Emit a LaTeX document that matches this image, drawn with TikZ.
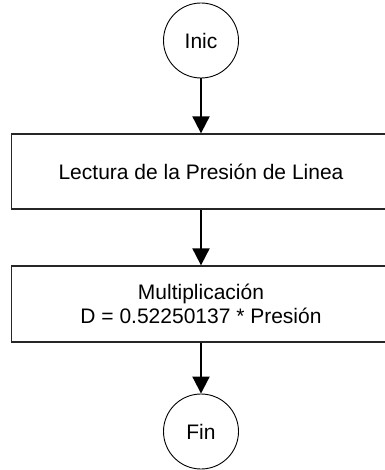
\documentclass[tikz,border=0pt]{standalone}
\usepackage{fontspec}
\setmainfont{Liberation Sans}
\usetikzlibrary{arrows.meta}
\begin{document}
\begin{tikzpicture}[x=1pt,y=-1pt,
  every node/.style={font=\fontsize{21}{24}\selectfont},
  term/.style={circle,draw=black,line width=0.9pt,minimum size=75pt,inner sep=0pt},
  procbox/.style={rectangle,draw=black!85,line width=1.3pt,minimum width=379pt,align=center,inner sep=0pt},
  flow/.style={line width=2pt,-{Triangle[length=17pt,width=17pt]}}]
\useasboundingbox (0,0) rectangle (384,470);
\node[term] (inic) at (201,40.5) {Inic};
\node[procbox,minimum height=75pt] (lect) at (201,171.5) {Lectura de la Presión de Linea};
\node[procbox,minimum height=76pt] (mult) at (201,304) {Multiplicación\\D = 0.52250137 * Presión};
\node[term] (fin) at (201,431.5) {Fin};
\draw[flow] (inic) -- (lect);
\draw[flow] (lect) -- (mult);
\draw[flow] (mult) -- (fin);
\end{tikzpicture}
\end{document}
